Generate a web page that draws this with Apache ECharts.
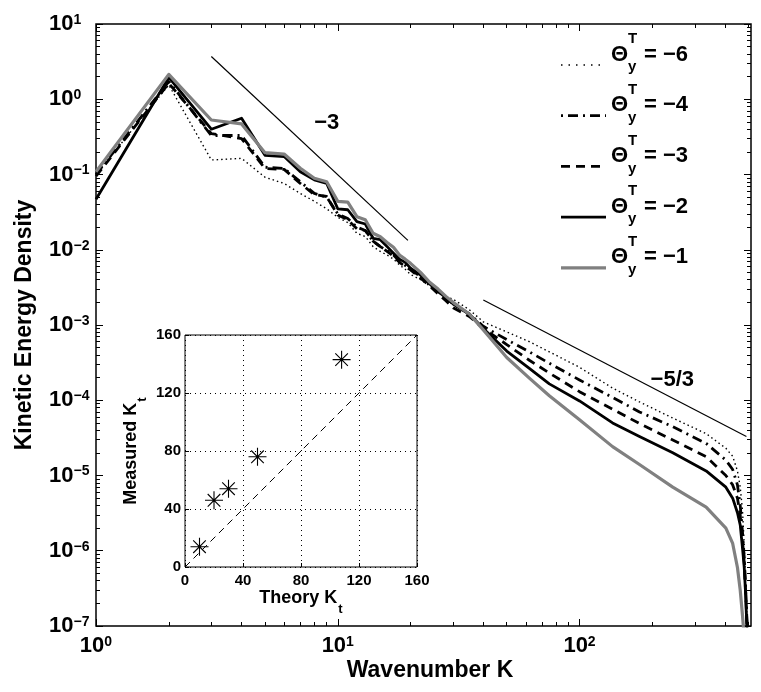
<!DOCTYPE html>
<html>
<head>
<meta charset="utf-8">
<script src="https://cdn.jsdelivr.net/npm/echarts@6/dist/echarts.min.js"></script>
<style>
  html, body { margin: 0; padding: 0; background: #fff; }
  #main { width: 761px; height: 692px; }
</style>
</head>
<body>
<div id="main"></div>
<script>
// Wavenumbers at which the spectra are sampled
const wavenumbers = [1, 2, 3, 4, 5, 6, 7, 8, 9, 10, 11, 12, 13, 14, 15, 16, 17, 18, 19, 20,
  22, 24, 26, 28, 30, 35, 40, 50, 62, 75, 100, 137, 177, 243, 334, 403, 430, 450, 462, 472,
  480, 486, 492, 500];

// Kinetic energy spectra for each temperature gradient
const energyThetaM6 = [0.10, 1.55, 0.156, 0.164, 0.092, 0.076, 0.056, 0.044, 0.035, 0.027,
  0.023, 0.0165, 0.015, 0.011, 0.0095, 0.0085, 0.0075, 0.0063, 0.0055, 0.0047,
  0.0040, 0.0033, 0.0028, 0.0024, 0.0022, 0.0016, 1.1e-3, 8.1e-4, 6.0e-4, 4.4e-4,
  2.74e-4, 1.45e-4, 9.5e-5, 5.8e-5, 3.6e-5, 2.3e-5, 1.8e-5, 1.15e-5, 7e-6, 3.5e-6,
  1.2e-6, 4e-7, 1.5e-7, 5e-8];
const energyThetaM4 = [0.10, 1.72, 0.33, 0.33, 0.125, 0.12, 0.08, 0.056, 0.05, 0.03,
  0.026, 0.02, 0.018, 0.013, 0.011, 0.0097, 0.0085, 0.007, 0.0062, 0.0055,
  0.0044, 0.0035, 0.0028, 0.0023, 0.0019, 0.0014, 9.6e-4, 6.4e-4, 4.4e-4, 3.1e-4,
  1.86e-4, 1.09e-4, 7e-5, 4.45e-5, 2.67e-5, 1.6e-5, 1.2e-5, 7.5e-6, 4e-6, 1.8e-6,
  8e-7, 3.5e-7, 1.3e-7, 5e-8];
const energyThetaM3 = [0.095, 1.63, 0.35, 0.30, 0.12, 0.117, 0.076, 0.054, 0.051, 0.029,
  0.025, 0.019, 0.018, 0.013, 0.011, 0.0095, 0.0082, 0.0068, 0.006, 0.0054,
  0.0042, 0.0033, 0.0026, 0.0021, 0.0017, 0.0013, 9e-4, 5.5e-4, 3.4e-4, 2.3e-4,
  1.3e-4, 7.6e-5, 4.9e-5, 2.96e-5, 1.78e-5, 1.0e-5, 7.5e-6, 5e-6, 3e-6, 1.4e-6,
  7e-7, 3e-7, 1.2e-7, 5e-8];
const energyThetaM2 = [0.047, 1.95, 0.40, 0.56, 0.18, 0.173, 0.109, 0.085, 0.076, 0.035,
  0.034, 0.0236, 0.022, 0.0142, 0.0136, 0.011, 0.009, 0.0075, 0.0068, 0.0057,
  0.0046, 0.0036, 0.0028, 0.0023, 0.0019, 0.0014, 9e-4, 4.5e-4, 2.65e-4, 1.65e-4,
  9.8e-5, 5e-5, 3.3e-5, 2e-5, 1.15e-5, 7e-6, 5e-6, 3.2e-6, 2.2e-6, 1.1e-6,
  6e-7, 2.8e-7, 1e-7, 4e-8];
const energyThetaM1 = [0.109, 2.14, 0.53, 0.47, 0.195, 0.187, 0.121, 0.089, 0.080, 0.044,
  0.043, 0.0275, 0.025, 0.0166, 0.0149, 0.0125, 0.0108, 0.0085, 0.0075, 0.0066,
  0.0050, 0.0037, 0.0030, 0.0024, 0.0020, 0.0014, 8.6e-4, 3.7e-4, 1.97e-4, 1.15e-4,
  5.5e-5, 2.42e-5, 1.4e-5, 7e-6, 3.8e-6, 2.0e-6, 1.25e-6, 6e-7, 3e-7, 1.4e-7,
  7e-8, 4e-8, 2e-8, 1e-8];

// Power-law guide lines (end points) and their labels
const slopeM3Line = [[3, 3.7], [19.5, 0.0133]];
const slopeM53Line = [[40, 2.15e-3], [490, 3.3e-5]];
const slopeLabelPoints = [[9.0, 0.48], [242, 1.86e-4]];
const slopeLabelTexts = ['\u22123', '\u22125/3'];

// Legend values of the temperature gradient
const thetaLabels = ['\u22126', '\u22124', '\u22123', '\u22122', '\u22121'];

// Inset: measured vs theoretical transition wavenumber
const theoryKt = [10, 20, 30, 50, 108];
const measuredKt = [14, 46, 54, 76, 143];
const identityLine = [[0, 0], [160, 160]];
const insetTicks = [0, 40, 80, 120, 160];

// Axis decades
const xDecades = [1, 10, 100];
const yDecades = [1e-7, 1e-6, 1e-5, 1e-4, 1e-3, 1e-2, 1e-1, 1, 10];

const FONT = '"Liberation Sans", Arial, Helvetica, sans-serif';

function minorTicks(decades, upper) {
  const out = [];
  decades.forEach(d => {
    for (let m = 2; m <= 9; m++) {
      const v = d * m;
      if (v < upper) out.push(+v.toPrecision(3));
    }
  });
  return out;
}
const xMinor = minorTicks(xDecades, 512);
const yMinor = minorTicks(yDecades.slice(0, -1), 10);

function powerLabel(v) {
  const e = Math.round(Math.log10(v));
  return '{b|10}{e|' + (e < 0 ? '\u2212' + (-e) : String(e)) + '}';
}
const powerRich = {
  b: { fontSize: 22, fontWeight: 'bold', fontFamily: FONT, color: '#000', lineHeight: 22 },
  e: { fontSize: 14, fontWeight: 'bold', fontFamily: FONT, color: '#000', lineHeight: 6, verticalAlign: 'top' }
};

function logAxis(kind, position, tickValues, tickLen, label) {
  const ax = {
    type: 'log', logBase: 10, gridIndex: 0, position: position,
    min: kind === 'x' ? 1 : 1e-7,
    max: kind === 'x' ? 512 : 10,
    axisLine: { show: false },
    splitLine: { show: false },
    axisTick: { show: true, inside: true, length: tickLen, customValues: tickValues,
      lineStyle: { color: '#000', width: 1 } },
    axisLabel: { show: false }
  };
  if (label) ax.axisLabel = label;
  return ax;
}

const insetNameRich = {
  a: { fontSize: 18, fontWeight: 'bold', fontFamily: FONT, color: '#000', lineHeight: 20 },
  s: { fontSize: 13, fontWeight: 'bold', fontFamily: FONT, color: '#000', lineHeight: 20, verticalAlign: 'bottom', padding: [0, 0, -8, 1] }
};
function insetAxis(name, gap, labelMargin) {
  return {
    type: 'value', gridIndex: 1, min: insetTicks[0], max: insetTicks[insetTicks.length - 1],
    interval: insetTicks[1] - insetTicks[0],
    name: name, nameLocation: 'middle', nameGap: gap,
    nameTextStyle: { rich: insetNameRich },
    axisLine: { show: false },
    axisTick: { show: true, inside: true, length: 4, lineStyle: { color: '#000' } },
    splitLine: { show: true, lineStyle: { color: '#000', width: 1, type: [1, 4] } },
    axisLabel: { margin: labelMargin, fontSize: 15, fontWeight: 'bold', fontFamily: FONT, color: '#000' }
  };
}

const xAxes = [
  logAxis('x', 'bottom', xDecades, 7, {
    show: true, customValues: xDecades, margin: 9,
    formatter: powerLabel, rich: powerRich
  }),
  logAxis('x', 'bottom', xMinor, 4),
  logAxis('x', 'top', xDecades, 7),
  logAxis('x', 'top', xMinor, 4),
  insetAxis('{a|Theory K}{s|t}', 21, 6)
];

const yAxes = [
  logAxis('y', 'left', yDecades, 7, {
    show: true, customValues: yDecades, margin: 47, align: 'left',
    formatter: powerLabel, rich: powerRich
  }),
  logAxis('y', 'left', yMinor, 4),
  logAxis('y', 'right', yDecades, 7),
  logAxis('y', 'right', yMinor, 4),
  insetAxis('{a|Measured K}{s|t}', 44, 4)
];

const pairs = vals => wavenumbers.map((k, i) => [k, vals[i]]);

// Line styles of the five spectra (legend samples reuse them)
const spectra = [
  { name: '\u0398 = \u22126', values: energyThetaM6, color: '#000', width: 1.4, dash: [1.5, 3], legendDash: [1.5, 6] },
  { name: '\u0398 = \u22124', values: energyThetaM4, color: '#000', width: 2.8, dash: [10, 5, 2, 5], legendDash: [2, 5, 10, 5] },
  { name: '\u0398 = \u22123', values: energyThetaM3, color: '#000', width: 2.8, dash: [9, 6], legendDash: [9, 6] },
  { name: '\u0398 = \u22122', values: energyThetaM2, color: '#000', width: 2.8, dash: 'solid', legendDash: null },
  { name: '\u0398 = \u22121', values: energyThetaM1, color: '#808080', width: 3.2, dash: 'solid', legendDash: null }
];

const series = spectra.map(s => ({
  type: 'line', name: s.name, xAxisIndex: 0, yAxisIndex: 0,
  data: pairs(s.values), showSymbol: false, symbol: 'none', silent: true,
  lineStyle: { color: s.color, width: s.width, type: s.dash, join: 'round' },
  clip: true
}));

series.push(
  { type: 'line', xAxisIndex: 0, yAxisIndex: 0, data: slopeM3Line, symbol: 'none', silent: true,
    lineStyle: { color: '#000', width: 1.2 } },
  { type: 'line', xAxisIndex: 0, yAxisIndex: 0, data: slopeM53Line, symbol: 'none', silent: true,
    lineStyle: { color: '#000', width: 1.2 } },
  { type: 'scatter', xAxisIndex: 0, yAxisIndex: 0, symbolSize: 1, silent: true,
    itemStyle: { color: 'rgba(0,0,0,0)', opacity: 1 },
    data: slopeLabelPoints.map((p, i) => ({ value: p, label: { formatter: slopeLabelTexts[i] } })),
    label: { show: true, position: 'inside', fontSize: 22, fontWeight: 'bold', fontFamily: FONT,
      color: '#000', opacity: 1, textBorderWidth: 0 } },
  { type: 'line', xAxisIndex: 4, yAxisIndex: 4, data: identityLine, symbol: 'none', silent: true,
    lineStyle: { color: '#000', width: 1, type: [7, 5] } },
  { type: 'scatter', xAxisIndex: 4, yAxisIndex: 4, silent: true,
    data: theoryKt.map((t, i) => [t, measuredKt[i]]),
    symbol: 'path://M0,10L20,10M10,0L10,20M3,3L17,17M17,3L3,17', symbolSize: 18,
    itemStyle: { color: 'rgba(0,0,0,0)', borderColor: '#000', borderWidth: 1.1, opacity: 1 } }
);

// Legend drawn as graphic rows: line sample + Θ with sub/superscripts
const legendX1 = 561, legendX2 = 606, legendY0 = 65, legendStep = 50.7;
const legendGraphics = [];
spectra.forEach((s, i) => {
  const y = legendY0 + i * legendStep;
  legendGraphics.push({
    type: 'line', shape: { x1: legendX1, y1: y, x2: legendX2, y2: y },
    style: { stroke: s.color, lineWidth: s.width, lineDash: s.legendDash || null }
  });
  const txt = (t, x, yy, size) => ({
    type: 'text', x: x, y: yy,
    style: { text: t, font: 'bold ' + size + 'px ' + FONT, fill: '#000', align: 'left', verticalAlign: 'middle' }
  });
  legendGraphics.push(txt('\u0398', 611, y - 10.5, 22));
  legendGraphics.push(txt('T', 628, y - 26, 15));
  legendGraphics.push(txt('y', 628, y + 2, 15));
  legendGraphics.push(txt('= ' + thetaLabels[i], 644, y - 10.5, 22));
});

const chart = echarts.init(document.getElementById('main'), null, { renderer: 'canvas' });
chart.setOption({
  animation: false,
  backgroundColor: '#fff',
  grid: [
    { left: 96, right: 10, top: 24, bottom: 66, show: true, borderColor: '#000', borderWidth: 1.5, backgroundColor: 'transparent' },
    { left: 185, top: 335, width: 232, height: 232, show: true, borderColor: '#000', borderWidth: 1, backgroundColor: '#fff' }
  ],
  xAxis: xAxes,
  yAxis: yAxes,
  series: series,
  graphic: [
    { type: 'text', x: 430, y: 671,
      style: { text: 'Wavenumber K', font: 'bold 23px ' + FONT, fill: '#000', align: 'center', verticalAlign: 'middle' } },
    { type: 'text', x: 25, y: 325, rotation: Math.PI / 2,
      style: { text: 'Kinetic Energy Density', font: 'bold 23px ' + FONT, fill: '#000', align: 'center', verticalAlign: 'middle' } }
  ].concat(legendGraphics)
});
</script>
</body>
</html>
